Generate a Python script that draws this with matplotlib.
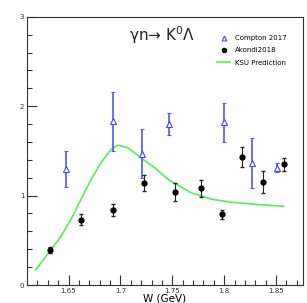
import matplotlib
matplotlib.use("Agg")
import matplotlib.pyplot as plt
from matplotlib.ticker import MultipleLocator, FixedLocator
from matplotlib.lines import Line2D

# Compton 2017 (blue open triangles)
compton_w = [1.648, 1.693, 1.721, 1.747, 1.800, 1.827, 1.851]
compton_y = [1.30, 1.83, 1.47, 1.80, 1.82, 1.37, 1.31]
compton_err = [0.20, 0.33, 0.27, 0.12, 0.22, 0.28, 0.05]

# Akondi2018 (black circles)
akondi_w = [1.6325, 1.6625, 1.6925, 1.7225, 1.7525, 1.7775, 1.7975, 1.8175, 1.8375, 1.8575]
akondi_y = [0.39, 0.73, 0.84, 1.14, 1.04, 1.08, 0.79, 1.43, 1.15, 1.35]
akondi_err = [0.03, 0.06, 0.07, 0.09, 0.10, 0.10, 0.05, 0.11, 0.12, 0.07]

# KSU Prediction (green curve)
ksu_w = [1.6183, 1.6328, 1.6425, 1.6522, 1.6619, 1.6717, 1.6814, 1.6911, 1.6976,
         1.7073, 1.7202, 1.7332, 1.7461, 1.7684, 1.7879, 1.8073, 1.8333, 1.8575]
ksu_y = [0.17, 0.39, 0.54, 0.73, 0.955, 1.18, 1.37, 1.52, 1.565,
         1.535, 1.42, 1.31, 1.18, 1.03, 0.96, 0.925, 0.90, 0.88]

fig = plt.figure(figsize=(3.07, 3.03), dpi=100)
ax = fig.add_axes([0.088, 0.0594, 0.899, 0.885])

ax.plot(ksu_w, ksu_y, color="#55ee55", lw=1.2, zorder=2)
ax.errorbar(compton_w, compton_y, yerr=compton_err, fmt="^", mfc="white", mec="#4444ff",
            ecolor="#5555ff", ms=4, mew=0.8, elinewidth=1.2, capsize=1.2, zorder=3)
ax.errorbar(akondi_w, akondi_y, yerr=akondi_err, fmt="o", color="black",
            ecolor="#222222", ms=3.5, elinewidth=0.8, capsize=1.5, zorder=4)

ax.set_xlim(1.61, 1.876)
ax.set_ylim(0, 3)
ax.xaxis.set_major_locator(FixedLocator([1.65, 1.7, 1.75, 1.8, 1.85]))
ax.xaxis.set_minor_locator(MultipleLocator(0.01))
ax.yaxis.set_major_locator(MultipleLocator(1))
ax.yaxis.set_minor_locator(MultipleLocator(0.2))
ax.set_xticklabels(["1.65", "1.7", "1.75", "1.8", "1.85"])
ax.tick_params(axis="both", which="both", direction="in", labelsize=5, colors="#333333")
ax.tick_params(axis="both", which="major", length=7, width=0.8)
ax.tick_params(axis="both", which="minor", length=3.5, width=0.8)
ax.tick_params(axis="y", pad=2)
ax.tick_params(axis="x", pad=2)
for s in ax.spines.values():
    s.set_color("#333333")
    s.set_linewidth(0.8)

ax.set_xlabel("W (GeV)", fontsize=7.5, labelpad=0)
ax.text(0.49, 0.93, "γn→ K$^{\\mathregular{0}}$Λ", transform=ax.transAxes,
        ha="center", va="center", fontsize=11, color="#222222")

handles = [
    Line2D([], [], ls="none", marker="^", mfc="white", mec="#4444ff", ms=3.5, mew=0.8),
    Line2D([], [], ls="none", marker="o", color="black", ms=3),
    Line2D([], [], color="#55ee55", lw=1.2),
]
labels = ["Compton 2017", "Akondi2018", "KSU Prediction"]
ax.legend(handles, labels, loc="upper right", bbox_to_anchor=(0.965, 0.955), fontsize=5,
          frameon=False, handlelength=1.8, labelspacing=0.9)

fig.savefig("out.png", dpi=100)
